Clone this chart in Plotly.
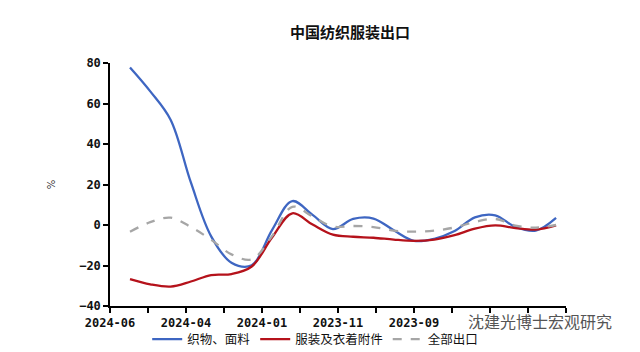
import numpy as np
import plotly.graph_objects as go

# ---- data ----
FABRIC = [77.8, 66.0, 52.0, 21.0, -5.6, -18.6, -19.9, -2.5, 11.8, 5.0, -2.0,
          3.0, 3.2, -2.6, -7.8, -6.8, -3.0, 3.8, 4.8, -1.0, -2.8, 3.5]
APPAREL = [-26.7, -29.3, -30.4, -27.9, -24.7, -24.2, -20.5, -6.2, 5.8, 0.2, -4.8,
           -5.8, -6.3, -7.2, -7.8, -7.2, -5.0, -1.8, -0.2, -1.5, -2.3, -0.2]
TOTAL = [-3.3, 1.4, 3.6, -1.0, -7.3, -14.5, -17.0, -5.5, 9.0, 4.2, -0.8,
         -0.5, -1.0, -2.8, -3.3, -2.8, -1.2, 1.5, 3.0, -0.3, -1.3, 0.0]
TICK_LABELS = ["2024-06", "", "2024-04", "", "2024-01", "", "2023-11", "",
               "2023-09", "", "", "", ""]
SERIES_NAMES = ["织物、面料", "服装及衣着附件", "全部出口"]
TITLE = "中国纺织服装出口"
WATERMARK = "沈建光博士宏观研究"

x = np.arange(len(FABRIC))
X_MIN, X_MAX = -0.986, 21.49
tickvals = np.linspace(X_MIN, X_MAX, len(TICK_LABELS))

fig = go.Figure()
fig.add_trace(go.Scatter(x=x, y=FABRIC, name=SERIES_NAMES[0], mode="lines",
                         line=dict(color="#3E66C2", width=2.3, shape="spline", smoothing=1.0)))
fig.add_trace(go.Scatter(x=x, y=APPAREL, name=SERIES_NAMES[1], mode="lines",
                         line=dict(color="#B5121B", width=2.3, shape="spline", smoothing=1.0)))
fig.add_trace(go.Scatter(x=x, y=TOTAL, name=SERIES_NAMES[2], mode="lines",
                         line=dict(color="#A6A6A6", width=2.3, dash="dash", shape="spline", smoothing=1.0)))

axis_font = dict(family="DejaVu Sans Mono", size=12, color="#111111", weight="bold")

fig.update_layout(
    width=640, height=352,
    margin=dict(l=110, r=74, t=63, b=46, autoexpand=False),
    paper_bgcolor="white", plot_bgcolor="white",
    title=dict(text=TITLE, x=0.547, xanchor="center", xref="container",
               y=1 - 33 / 352, yref="container", yanchor="middle",
               font=dict(family="Noto Sans CJK SC", size=15, color="#111111", weight="bold")),
    xaxis=dict(range=[X_MIN, X_MAX], tickmode="array", tickvals=tickvals, ticktext=TICK_LABELS,
               showline=True, linecolor="black", linewidth=1.5, ticks="outside", ticklen=5,
               tickwidth=1.5, tickcolor="black", showgrid=False, zeroline=False,
               tickfont=axis_font),
    yaxis=dict(range=[-40, 80], tickmode="array", tickvals=list(range(-40, 81, 20)),
               showline=True, linecolor="black", linewidth=1.5, ticks="outside", ticklen=5,
               tickwidth=1.5, tickcolor="black", showgrid=False, zeroline=False,
               tickfont=axis_font,
               title=dict(text="%", standoff=22, font=dict(family="DejaVu Sans", size=10, color="#333333"))),
    legend=dict(orientation="h", x=0.45, xanchor="center", y=-0.076, yanchor="top",
                font=dict(family="Noto Sans CJK SC", size=12.5, color="#111111"),
                itemwidth=30, tracegroupgap=0, borderwidth=0, bgcolor="rgba(0,0,0,0)"),
    showlegend=True,
)

fig.add_annotation(text=WATERMARK, xref="paper", yref="paper",
                   x=(540 - 110) / 456, y=(305.7 - 321) / 243, xanchor="center", yanchor="middle",
                   showarrow=False,
                   font=dict(family="Noto Sans CJK SC", size=16, color="#555555"))

fig.write_html("out.html")
